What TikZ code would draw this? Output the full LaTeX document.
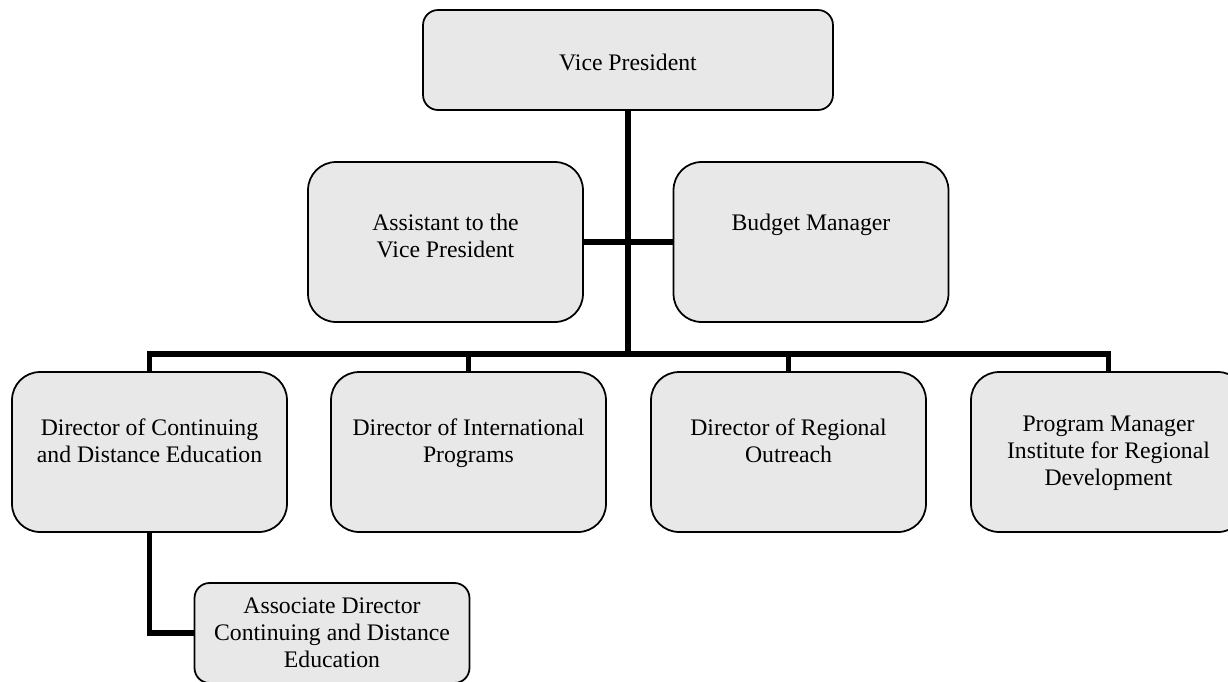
\documentclass[tikz,border=0pt]{standalone}
\usepackage{fontspec}
\setmainfont{Liberation Serif}
\usepackage{tikz}
\usetikzlibrary{positioning}
\definecolor{postgray}{HTML}{E8E8E8}
% box body: height, width, top skip, text
\newcommand{\postbody}[4]{\parbox[c][#1][t]{#2}{\centering\vspace*{#3}#4\par}}

\begin{document}
\begin{tikzpicture}[x=0.02cm,y=-0.02cm,
  post/.style={draw,line width=1pt,fill=postgray,rounded corners=0.56cm,inner sep=0pt,font=\fontsize{13.5}{15.3}\selectfont},
  smallpost/.style={post,rounded corners=0.3cm},
  link/.style={line width=3.4pt,line join=miter}]
  \useasboundingbox (0,0) rectangle (1228,681);
  \clip (0,0) rectangle (1228,681);

  \node[smallpost] (vp) at (628,60) {\postbody{2cm}{8.2cm}{0.88cm}{Vice President}};
  \node[post] (asst) at (445.5,242) {\postbody{3.2cm}{5.5cm}{1.04cm}{Assistant to the\\Vice President}};
  \node[post] (budget) at (811,242) {\postbody{3.2cm}{5.5cm}{1.04cm}{Budget Manager}};

  \node[post] (dcde) at (149.5,452) {\postbody{3.2cm}{5.5cm}{0.94cm}{Director of Continuing\\and Distance Education}};
  \node[post] (intl) at (468.5,452) {\postbody{3.2cm}{5.5cm}{0.94cm}{Director of International\\Programs}};
  \node[post] (reg) at (788.5,452) {\postbody{3.2cm}{5.5cm}{0.94cm}{Director of Regional\\Outreach}};
  \node[post] (pm) at (1108.5,452) {\postbody{3.2cm}{5.5cm}{0.88cm}{Program Manager\\Institute for Regional\\Development}};

  \node[smallpost] (assoc) at (332,633) {\parbox[c][2cm][c]{5.5cm}{\centering Associate Director\\Continuing and Distance\\Education\par}};

  \coordinate (bar) at (628,354);
  \draw[link] (vp) -- (bar);
  \draw[link] (asst) -- (budget);
  \draw[link] (dcde.north) |- (bar) -| (pm.north);
  \draw[link] (intl.north) -- (intl.north |- bar);
  \draw[link] (reg.north) -- (reg.north |- bar);
  \draw[link] (dcde.south) |- (assoc.west);
\end{tikzpicture}
\end{document}
